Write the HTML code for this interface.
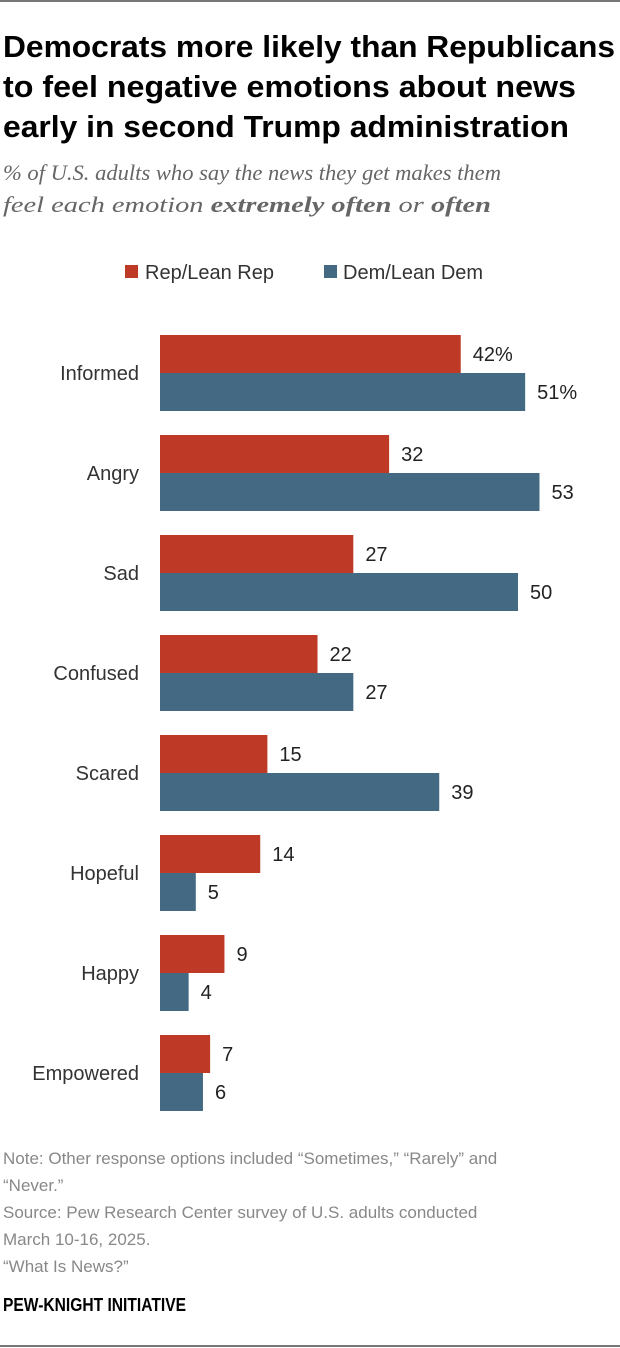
<!DOCTYPE html>
<html><head><meta charset="utf-8"><style>
html,body{margin:0;padding:0;background:#fff;}
svg{display:block;font-family:"Liberation Sans",sans-serif;}
</style></head><body>
<svg id="chart" width="620" height="1348" viewBox="0 0 620 1348" xmlns="http://www.w3.org/2000/svg">
<line x1="0" y1="1" x2="620" y2="1" stroke="#777" stroke-width="2"/>
<g font-weight="bold" font-size="31" fill="#000">
<text x="3" y="57" textLength="612" lengthAdjust="spacingAndGlyphs">Democrats more likely than Republicans</text>
<text x="3" y="97" textLength="573" lengthAdjust="spacingAndGlyphs">to feel negative emotions about news</text>
<text x="3" y="137" textLength="566" lengthAdjust="spacingAndGlyphs">early in second Trump administration</text>
</g>
<g font-family="Liberation Serif,serif" font-style="italic" font-size="22" fill="#666">
<text x="3" y="180" textLength="498" lengthAdjust="spacingAndGlyphs">% of U.S. adults who say the news they get makes them</text>
<text x="3" y="212" textLength="488" lengthAdjust="spacingAndGlyphs">feel each emotion <tspan font-weight="bold">extremely often</tspan> or <tspan font-weight="bold">often</tspan></text>
</g>
<g font-size="20" fill="#333">
<rect x="125" y="265" width="13" height="13" fill="#be3a26"/>
<text x="145" y="279">Rep/Lean Rep</text>
<rect x="324" y="265" width="13" height="13" fill="#436983"/>
<text x="343" y="279">Dem/Lean Dem</text>
</g>
<g id="bars"></g>
<g font-size="17" fill="#888">
<text x="3" y="1164">Note: Other response options included “Sometimes,” “Rarely” and</text>
<text x="3" y="1191">“Never.”</text>
<text x="3" y="1218">Source: Pew Research Center survey of U.S. adults conducted</text>
<text x="3" y="1245">March 10-16, 2025.</text>
<text x="3" y="1272">“What Is News?”</text>
</g>
<text x="3" y="1311" font-size="18" font-weight="bold" fill="#000" textLength="183" lengthAdjust="spacingAndGlyphs">PEW-KNIGHT INITIATIVE</text>
<line x1="0" y1="1346" x2="620" y2="1346" stroke="#777" stroke-width="2"/>
</svg>
<script>
const categories=["Informed","Angry","Sad","Confused","Scared","Hopeful","Happy","Empowered"];
const repValues=[42,32,27,22,15,14,9,7];
const demValues=[51,53,50,27,39,5,4,6];
const repLabels=["42%","32","27","22","15","14","9","7"];
const demLabels=["51%","53","50","27","39","5","4","6"];
const NS="http://www.w3.org/2000/svg";
const x0=160, scale=7.16, topY=335, step=100, bh=38;
const xs=v=>x0+v*scale;
const g=document.getElementById('bars');
function mk(tag,attrs){const e=document.createElementNS(NS,tag);for(const k in attrs)e.setAttribute(k,attrs[k]);g.appendChild(e);return e;}
categories.forEach((c,i)=>{
  const y=topY+i*step;
  const lab=mk('text',{x:139,y:y+bh+7,'text-anchor':'end','font-size':20,fill:'#333'});
  lab.textContent=c;
  
  
  [[repValues[i],repLabels[i],'#be3a26',y,'bar-rep'],[demValues[i],demLabels[i],'#436983',y+bh,'bar-dem']].forEach(([v,t,col,yy,nm])=>{
    const r=mk('rect',{x:x0,y:yy,width:xs(v)-x0,height:bh,fill:col});
    
    
    const tx=mk('text',{x:xs(v)+12,y:yy+bh/2+7,'font-size':20,fill:'#222'});
    tx.textContent=t;
    
    
  });
});
</script>
</body></html>
